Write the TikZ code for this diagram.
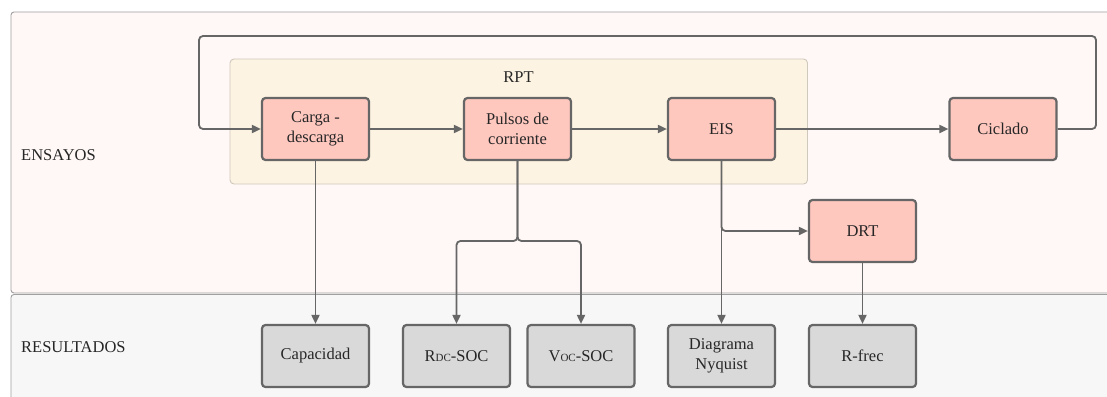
\documentclass[tikz,border=0pt]{standalone}
\usepackage{fontspec}
\setmainfont{Liberation Serif}
\usetikzlibrary{arrows.meta}
\definecolor{laneA}{HTML}{FFF8F6}
\definecolor{laneB}{HTML}{F7F7F7}
\definecolor{laneline}{HTML}{A0A0A0}
\definecolor{rptfill}{HTML}{FDF3E2}
\definecolor{rptline}{HTML}{CFC8BC}
\definecolor{pinkbox}{HTML}{FFC8BF}
\definecolor{graybox}{HTML}{D9D9D9}
\definecolor{edge}{HTML}{666666}
\begin{document}
\begin{tikzpicture}[x=1pt,y=-1pt,
  font=\fontsize{16.5}{19.5}\selectfont,
  proc/.style={draw=edge, line width=2.2pt, rounded corners=3.5pt, fill=pinkbox,
    minimum width=107pt, minimum height=62pt, align=center, inner sep=2pt, text=black!85},
  res/.style={proc, fill=graybox},
  lanelabel/.style={anchor=west, inner sep=0pt, text=black!85},
  conn/.style={draw=edge, line width=1.8pt, rounded corners=4pt,
    -{Triangle[length=9pt,width=8pt]}}]
\useasboundingbox (0,0) rectangle (1107,396);
\fill[white] (0,0) rectangle (1107,396);
\begin{scope}
  \clip (0,0) rectangle (1107,396);
  \draw[draw=laneline, fill=laneA, line width=0.9pt, rounded corners=3pt] (11,12) rectangle (1130,293);
  \draw[draw=laneline, fill=laneB, line width=0.9pt, rounded corners=3pt] (11,294.5) rectangle (1130,420);
\end{scope}
\node[lanelabel] (ens) at (21,155) {ENSAYOS};
\node[lanelabel] (resu) at (21,347) {RESULTADOS};
\draw[draw=rptline, fill=rptfill, line width=0.9pt, rounded corners=4pt] (230,59) rectangle (807.5,184);
\node[text=black!85] (rpt) at (518.5,77) {RPT};
\node[proc] (carga) at (315.5,129) {Carga -\\descarga};
\node[proc] (pulsos) at (517.5,129) {Pulsos de\\corriente};
\node[proc] (eis) at (721.5,129) {EIS};
\node[proc] (cic) at (1003,129) {Ciclado};
\node[proc] (drt) at (862.5,231) {DRT};
\node[res] (cap) at (315.5,356) {Capacidad};
\node[res] (rdc) at (456.5,356) {R{\fontsize{11}{11}\selectfont DC}-SOC};
\node[res] (voc) at (581,356) {V{\fontsize{11}{11}\selectfont OC}-SOC};
\node[res] (nyq) at (721.5,356) {Diagrama\\Nyquist};
\node[res] (rfrec) at (862.5,356) {R-frec};
\coordinate (loopR) at (1096,36);
\coordinate (loopL) at (199,36);
\coordinate (split) at (517.5,241);
\draw[conn] (carga) -- (pulsos);
\draw[conn] (pulsos) -- (eis);
\draw[conn] (eis) -- (cic);
\draw[conn] (cic.east) -| (loopR) -- (loopL) |- (carga.west);
\draw[conn] (carga) -- (cap);
\draw[conn] (pulsos.south) |- (rdc.north |- split) -- (rdc.north);
\draw[conn] (pulsos.south) |- (voc.north |- split) -- (voc.north);
\draw[conn] (eis) -- (nyq);
\draw[conn] (eis.south) |- (drt.west);
\draw[conn] (drt) -- (rfrec);
\end{tikzpicture}
\end{document}
